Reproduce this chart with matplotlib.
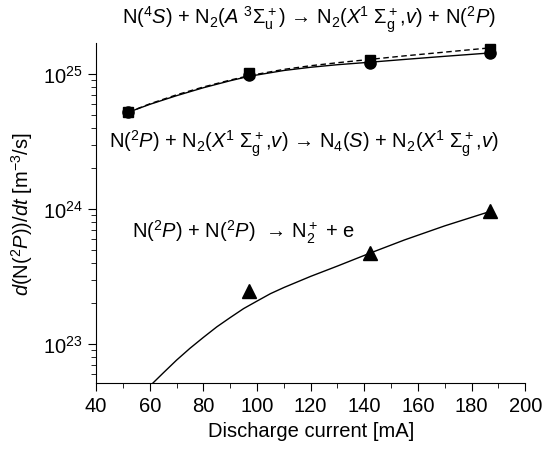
import matplotlib.pyplot as plt
import numpy as np

plt.rcParams['font.family'] = ['Liberation Sans', 'DejaVu Sans']
plt.rcParams['mathtext.fontset'] = 'custom'
plt.rcParams['mathtext.rm'] = 'Liberation Sans'
plt.rcParams['mathtext.it'] = 'Liberation Sans:italic'
plt.rcParams['mathtext.sf'] = 'Liberation Sans'

# measured points
arus = [52, 97, 142, 187]
kotak = [5.2e24, 1.02e25, 1.26e25, 1.54e25]
bulat = [5.2e24, 0.98e25, 1.2e25, 1.42e25]
segitiga = [2.47e23, 4.75e23, 9.6e23]
arus_segitiga = [97, 142, 187]

# model curves
x_atas = [52, 60, 70, 80, 90, 97, 110, 120, 130, 142, 155, 170, 187]
y_padat = [5.2e24, 5.95e24, 6.9e24, 7.9e24, 8.9e24, 9.6e24, 1.06e25, 1.12e25, 1.17e25, 1.22e25, 1.28e25, 1.35e25, 1.43e25]
y_putus = [5.2e24, 6.0e24, 7.0e24, 8.0e24, 9.0e24, 9.7e24, 1.08e25, 1.15e25, 1.21e25, 1.28e25, 1.36e25, 1.45e25, 1.56e25]
x_bawah = [61, 65, 70, 75, 80, 85, 90, 95, 100, 105, 110, 120, 130, 142, 155, 170, 187]
y_bawah = [5.1e22, 6.1e22, 7.6e22, 9.3e22, 1.12e23, 1.34e23, 1.57e23, 1.83e23, 2.08e23, 2.36e23, 2.62e23, 3.17e23, 3.78e23, 4.7e23, 5.9e23, 7.5e23, 9.6e23]

fig = plt.figure(figsize=(5.46, 4.52), dpi=100)
ax = fig.add_axes([0.176, 0.150, 0.786, 0.753])

ax.plot(x_atas, y_putus, 'k--', lw=1.0, dashes=(4, 2.5))
ax.plot(x_atas, y_padat, 'k-', lw=1.0)
ax.plot(x_bawah, y_bawah, 'k-', lw=1.0)
ax.plot(arus, kotak, 'ks', ms=7.5, ls='none')
ax.plot(arus, bulat, 'ko', ms=8, ls='none')
ax.plot(arus_segitiga, segitiga, 'k^', ms=9.5, ls='none')

ax.set_yscale('log')
ax.set_xlim(40, 200)
ax.set_ylim(10**22.71, 10**25.23)
ax.set_xticks(np.arange(40, 201, 20))
ax.set_xticks(np.arange(50, 200, 20), minor=True)
ax.spines['top'].set_visible(False)
ax.spines['right'].set_visible(False)
ax.tick_params(which='major', length=6, labelsize=14.5)
ax.tick_params(which='minor', length=3.5)

ax.set_xlabel('Discharge current [mA]', fontsize=14.5, labelpad=4)
ax.set_ylabel(r'$\it{d}$(N($^2\it{P}$))/$\it{dt}$ [m$^{-3}$/s]', fontsize=14.5, labelpad=6)

fsz = 14.5
fig.text(0.565, 0.957, r'N($^4\it{S}$) + N$_2$($\it{A}$ $^3\Sigma_\mathrm{u}^+$) → N$_2$($\it{X}$$^1$ $\Sigma_\mathrm{g}^+$,$\it{v}$) + N($^2\it{P}$)',
         ha='center', va='center', fontsize=fsz)
fig.text(0.556, 0.682, r'N($^2\it{P}$) + N$_2$($\it{X}$$^1$ $\Sigma_\mathrm{g}^+$,$\it{v}$) → N$_4$($\it{S}$) + N$_2$($\it{X}$$^1$ $\Sigma_\mathrm{g}^+$,$\it{v}$)',
         ha='center', va='center', fontsize=fsz)
fig.text(0.242, 0.485, r'N($^2\it{P}$) + N($^2\it{P}$)  → N$_2^+$ + e',
         ha='left', va='center', fontsize=fsz)

plt.savefig('out.png', dpi=100)
